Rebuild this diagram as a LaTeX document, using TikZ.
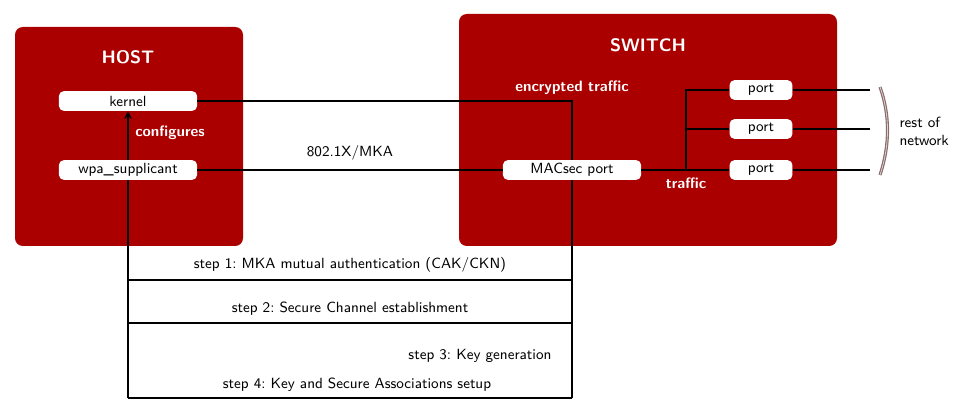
\documentclass[tikz,border=0pt]{standalone}
\usetikzlibrary{arrows.meta}
\definecolor{boxred}{HTML}{AA0000}
\definecolor{bracecol}{HTML}{8A6A6A}
\tikzset{
  container/.style={fill=boxred, rounded corners=5pt, draw=none},
  title/.style={text=white, font=\sffamily\bfseries\fontsize{11.5}{13}\selectfont},
  wlabel/.style={text=white, font=\sffamily\bfseries\fontsize{9.6}{11}\selectfont},
  blabel/.style={text=black, font=\sffamily\fontsize{9.4}{11.5}\selectfont},
  inner/.style={fill=white, rounded corners=3pt, draw=none, minimum width=88pt, minimum height=12.5pt, inner sep=0pt, font=\sffamily\fontsize{9.4}{11}\selectfont},
  portbox/.style={inner, minimum width=40pt},
  conn/.style={line width=1.3pt, black},
}
\begin{document}
\begin{tikzpicture}[x=0.0224cm, y=-0.0224cm]
\useasboundingbox (0,0) rectangle (972,415);
% containers
\node[container, minimum width=228*0.0224cm, minimum height=219*0.0224cm, inner sep=0pt] (host) at (129,136.5) {};
\node[container, minimum width=378*0.0224cm, minimum height=232*0.0224cm, inner sep=0pt] (switch) at (648,130) {};
\node[title] (hosttitle) at (128,57) {HOST};
\node[title] (switchtitle) at (648,45) {SWITCH};
% inner nodes
\node[inner] (kernel) at (128,101) {kernel};
\node[inner] (wpa) at (128,170) {wpa\_supplicant};
\node[inner] (macsec) at (572,170) {MACsec port};
\node[portbox] (p1) at (761,90) {port};
\node[portbox] (p2) at (761,129) {port};
\node[portbox] (p3) at (761,170) {port};
% coordinates
\coordinate (kc) at (572,101);
\coordinate (jn) at (686,170);
\coordinate (jt) at (686,90);
\coordinate (j2) at (686,129);
\coordinate (e1) at (870,90);
\coordinate (e2) at (870,129);
\coordinate (e3) at (870,170);
\coordinate (bl1) at (128,280);
\coordinate (br1) at (572,280);
\coordinate (bl2) at (128,323);
\coordinate (br2) at (572,323);
\coordinate (bl3) at (128,398);
\coordinate (br3) at (572,398);
% connectors
\draw[conn] (kernel.east) -- (kc) -- (macsec.north);
\draw[conn] (wpa.east) -- node[blabel, above=2pt] (mka) {802.1X/MKA} (macsec.west);
\draw[conn] (macsec.east) -- (jn);
\draw[conn] (jn) -- (p3.west);
\draw[conn] (jn) -- (jt) -- (p1.west);
\draw[conn] (j2) -- (p2.west);
\draw[conn] (p1.east) -- (e1);
\draw[conn] (p2.east) -- (e2);
\draw[conn] (p3.east) -- (e3);
\draw[conn] (macsec.south) -- (br3);
\draw[conn] (bl3) -- (br3);
\draw[conn] (bl1) -- (br1);
\draw[conn] (bl2) -- (br2);
\draw[conn] (bl3) -- (wpa.south);
\draw[conn, -{Stealth[length=5pt,width=5pt]}] (wpa.north) -- (kernel.south);
% labels
\node[wlabel] (conf) at (170,133) {configures};
\node[wlabel] (enc) at (572,88) {encrypted traffic};
\node[wlabel] (traf) at (686,183) {traffic};
\node[blabel] (s1) at (350,265) {step 1:\ MKA mutual authentication (CAK/CKN)};
\node[blabel] (s2) at (350,309) {step 2:\ Secure Channel establishment};
\node[blabel, anchor=east] (s3) at (557,356) {step 3:\ Key generation};
\node[blabel] (s4) at (357,385) {step 4:\ Key and Secure Associations setup};
% brace
\draw[bracecol, line width=2pt] (880,87) .. controls (890,115) and (890,145) .. (880,175);
\draw[white!70!bracecol, line width=0.5pt] (880,87) .. controls (890,115) and (890,145) .. (880,175);
\node[blabel, align=left, anchor=west] (rest) at (894,131) {rest of\\network};
\end{tikzpicture}
\end{document}
